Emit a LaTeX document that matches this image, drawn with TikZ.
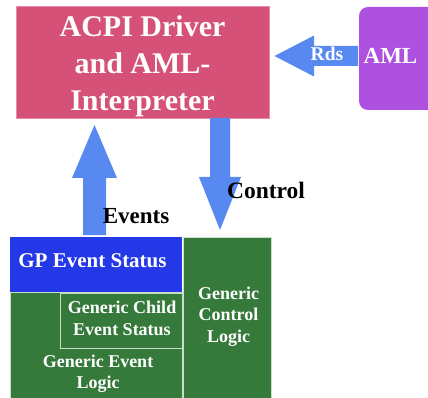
\documentclass[tikz,border=0pt]{standalone}
\usepackage{fontspec}
\setmainfont{Liberation Serif}[BoldFont={Liberation Serif Bold}]
\newfontfamily\tnr{Liberation Serif}[BoldFont={Liberation Serif Bold}]
\definecolor{acpipink}{RGB}{214,81,119}
\definecolor{acpiedge}{RGB}{232,140,165}
\definecolor{amlpurple}{RGB}{174,80,224}
\definecolor{arrowblue}{RGB}{88,137,240}
\definecolor{gpblue}{RGB}{36,56,232}
\definecolor{logicgreen}{RGB}{54,122,59}
\definecolor{edgegreen}{RGB}{200,222,200}
\tikzset{
  wtext/.style={text=white, align=center, inner sep=0pt},
  btext/.style={text=black, align=center, inner sep=0pt},
  fatarrow/.style={fill=arrowblue, draw=none},
  greenbox/.style={fill=logicgreen, draw=edgegreen, line width=0.8pt}
}
\begin{document}
\begin{tikzpicture}[x=1pt,y=-1pt]
\useasboundingbox (0,0) rectangle (428,398);
% ACPI driver box
\fill[acpipink] (16,6) rectangle (269,118);
\draw[acpiedge, line width=0.6pt] (16,6) rectangle (269,118);
\node[wtext, font=\tnr\bfseries\fontsize{30}{37}\selectfont] (acpi) at (142.5,66.5) {ACPI Driver\\and AML-\\Interpreter};
% AML box
\fill[amlpurple, rounded corners=9pt] (359,7) rectangle (450,110);
\node[wtext, font=\tnr\bfseries\fontsize{23}{27}\selectfont] (aml) at (390.5,56) {AML};
% Rds arrow
\fill[fatarrow] (274.5,56) -- (314,35.5) -- (314,46) -- (358,46) -- (358,66) -- (314,66) -- (314,76.5) -- cycle;
\node[wtext, font=\tnr\bfseries\fontsize{19.5}{23}\selectfont] (rds) at (327,54) {Rds};
% bottom boxes
\fill[gpblue] (10,237) rectangle (182,292);
\node[wtext, font=\tnr\bfseries\fontsize{21}{25}\selectfont] (gp) at (92.5,260.5) {GP Event Status};
\draw[greenbox] (10,292.5) rectangle (182.5,405);
\draw[greenbox] (60.5,293) rectangle (182.5,348);
\draw[greenbox] (183.5,237) rectangle (271,405);
\node[wtext, font=\tnr\bfseries\fontsize{18}{22}\selectfont] (child) at (122,318.5) {Generic Child\\Event Status};
\node[wtext, font=\tnr\bfseries\fontsize{18}{21.5}\selectfont] (evlogic) at (98,373.5) {Generic Event\\Logic};
\node[wtext, font=\tnr\bfseries\fontsize{18}{21.5}\selectfont] (ctrllogic) at (228.5,316.5) {Generic\\Control\\Logic};
% Events arrow (up)
\fill[fatarrow] (83,235) -- (83,178) -- (72,178) -- (94.5,125) -- (117,178) -- (106,178) -- (106,235) -- cycle;
\node[btext, font=\tnr\bfseries\fontsize{23}{27}\selectfont] (events) at (136,216.5) {Events};
% Control arrow (down)
\fill[fatarrow] (210,118) -- (230,118) -- (230,177) -- (241,177) -- (220,230) -- (199,177) -- (210,177) -- cycle;
\node[btext, font=\tnr\bfseries\fontsize{23.5}{27}\selectfont] (control) at (266,190) {Control};
\end{tikzpicture}
\end{document}
